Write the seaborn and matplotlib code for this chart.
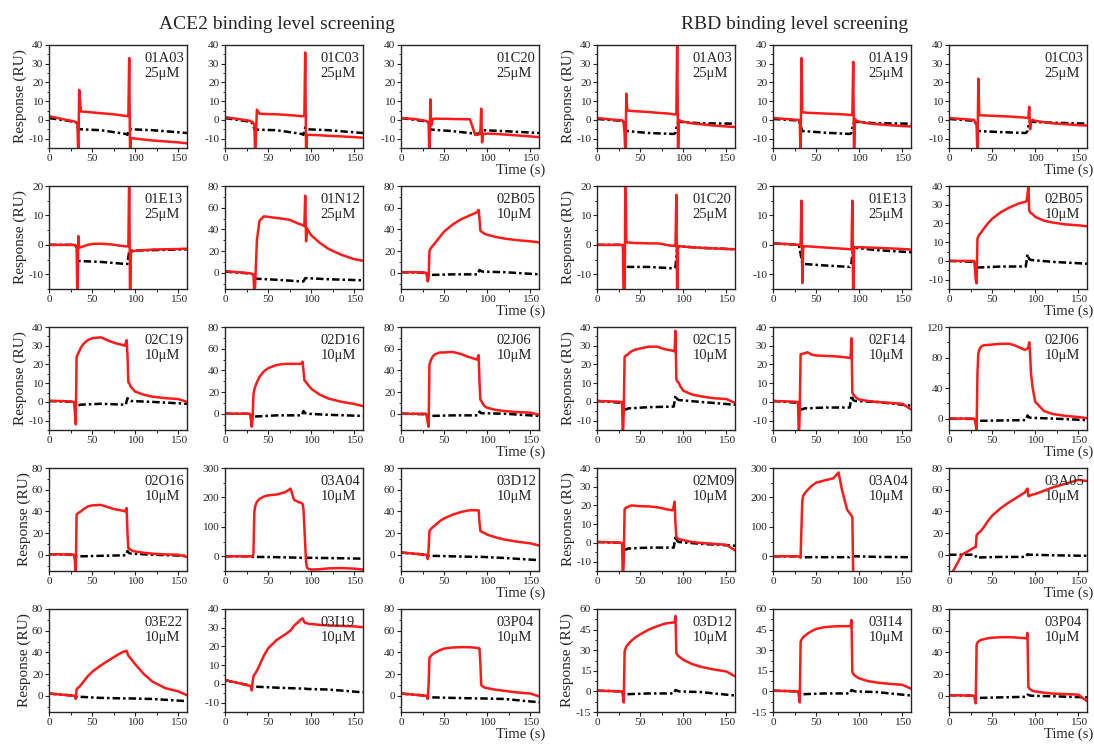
import matplotlib
matplotlib.use("Agg")
import matplotlib.pyplot as plt
import matplotlib.ticker as mticker
import seaborn as sns

# time grids (s) the sensorgram values below are read on
TIME_RED = [0, 15, 29, 30, 31, 32, 33, 34, 35, 37,
            40, 45, 50, 60, 70, 76, 80, 86, 88, 90, 91,
            92, 93, 94, 95, 97, 100, 110, 120, 135, 150, 160]
TIME_BLACK = [0, 30, 32, 34, 36, 60, 89, 91, 93, 95, 120, 160]

# ---- ACE2 binding level screening ----
ACE2_01A03_RED = [2, 0.5, -0.8, -1, -1.2, -1.5, -2.5, -20, 16, 4.5,
                  4.4, 4.2, 4, 3.6, 3.2, 2.9, 2.7, 2.3, 2.2, 2.1, 2.1,
                  2, 33, -20, -10, -9.8, -10, -10.5, -11, -11.5, -12, -12.5]
ACE2_01A03_BLACK = [1, -1, -1.5, -5, -5, -5.5, -7.5, -8, -5, -5, -5.5, -7]
ACE2_01C03_RED = [1.5, 0.5, -0.5, -0.7, -1, -1.2, -1.8, -3, -18, 5.5,
                  3.3, 3.2, 3.1, 3, 2.7, 2.5, 2.4, 2.1, 2, 2, 2,
                  2.5, 36, -18, -8, -8, -8, -8.2, -8.5, -8.8, -9.2, -9.5]
ACE2_01C03_BLACK = [1, -1, -2, -5, -5.2, -5.5, -7.5, -8, -4, -5, -5.5, -7]
ACE2_01C20_RED = [1, 0.5, -0.5, -0.8, -1, -1.5, -20, 11, -3, 0.5,
                  0.7, 0.6, 0.6, 0.5, 0.4, 0.35, 0.3, -8, -8, -7.8, -7.5,
                  -7, 6, -12, -7.5, -7.5, -7.3, -7.5, -7.8, -8.3, -8.8, -9.2]
ACE2_01C20_BLACK = [1, -0.8, -1.5, -5, -5.2, -6, -7.5, -7, -5.5, -5.5, -6, -7]
ACE2_01E13_RED = [0, 0, 0, 0, -0.2, -0.5, -20, 3, -1, -0.8,
                  -0.5, 0, 0.3, 0.4, 0.2, 0, -0.2, -0.4, -0.5, -0.5, -0.5,
                  -0.6, 25, -20, -2.5, -2.2, -2, -1.8, -1.6, -1.5, -1.4, -1.3]
ACE2_01E13_BLACK = [0, 0, -1, -5.5, -5.5, -5.8, -6.5, -6.5, -2, -2, -1.8, -1.5]
ACE2_01N12_RED = [1.5, 0.5, -0.5, -0.7, -1, -1.3, -1.5, -20, -10, 30,
                  48, 52, 51.5, 50.5, 49.5, 48.5, 47, 45, 44.5, 44, 43.5,
                  43, 71, 29, 41, 38, 34.5, 27.5, 22, 16.5, 12.5, 11]
ACE2_01N12_BLACK = [1, -0.7, -1.3, -5, -5.5, -6.5, -8, -8, -5, -5, -6, -7]
ACE2_02B05_RED = [0.5, 0.5, 0, -3, -8, -5, 20, 22, 23, 25,
                  28, 33, 38, 44.5, 49.5, 51.5, 53, 55, 56, 58, 50,
                  39, 38, 37.5, 37, 36, 35, 33, 31.5, 30, 29, 28]
ACE2_02B05_BLACK = [0.5, 0, -2, -2, -2, -1.5, -1.5, 2.5, 1.5, 1, 0.5, -1.5]
ACE2_02C19_RED = [0.5, 0.5, 0, -5, -12, 24, 25, 26, 27, 29,
                  31, 33, 34, 34.5, 32.5, 31.5, 31, 30.3, 30, 33, 25,
                  10.5, 10, 9, 8, 7, 5.5, 3.8, 2.8, 2, 1.5, 0]
ACE2_02C19_BLACK = [0.5, 0, -2, -2, -1.5, -1, -1.5, 2, 1, 0.5, 0, -1]
ACE2_02D16_RED = [0, 0, 0, -5, -12, -5, 18, 22, 25, 29,
                  34, 39, 42, 45, 46, 46, 46, 46, 46, 48, 40,
                  31, 30, 29, 28, 26, 23, 17.5, 14, 11, 9, 7]
ACE2_02D16_BLACK = [0, 0, -3, -3, -2.5, -1.5, -1.5, 2.5, 0.5, 0, -1, -2]
ACE2_02J06_RED = [0, 0, 0, -3, -8, -12, 45, 48, 50, 53,
                  55, 56.5, 56.5, 57, 55, 53, 52, 50.5, 50, 54, 30,
                  13, 12, 10.5, 9, 7, 5.5, 3.5, 2.5, 1.5, 1, -1]
ACE2_02J06_BLACK = [0, -0.5, -2, -2, -2, -1.5, -1.5, 2, 0.5, 0.5, 0, -2]
ACE2_02O16_RED = [0.5, 0.3, 0, -5, -20, 37, 38, 38.5, 39, 40,
                  42, 44.5, 45.5, 46, 43.5, 42, 41.5, 40.5, 40, 43, 20,
                  6, 5.5, 5, 4.5, 3.5, 3, 1.8, 1, 0.3, 0, -2]
ACE2_02O16_BLACK = [0.5, 0, -1.5, -1.5, -1.5, -1, -0.5, 3.5, 1.5, 1, 0, -1]
ACE2_03A04_RED = [0, 0, 0, 0, 0, 0, 10, 150, 170, 185,
                  195, 203, 207, 210, 218, 230, 192, 183, 182, 178, 160,
                  100, 40, -20, -38, -43, -45, -44, -41, -40, -42, -45]
ACE2_03A04_BLACK = [0, 0, -2, -2, -2, -3, -5, -5, -5, -5, -6, -8]
ACE2_03D12_RED = [2, 1, 0, -1, -4, 5, 22, 23, 24, 25.5,
                  27.5, 31, 33.5, 37, 39.5, 40.5, 41, 41, 41, 41, 30,
                  22, 21.5, 21, 20.5, 20, 18.5, 16, 14, 12, 10.5, 8.5]
ACE2_03D12_BLACK = [2, 0, -1, -1, -1, -1.5, -2, -2, -2, -2, -3, -5]
ACE2_03E22_RED = [2, 1, 0, -0.5, -3, 6, 7, 7.5, 8, 10,
                  13, 18, 22, 28, 33, 36, 38, 40.5, 41, 41.5, 39,
                  37, 36, 35, 34, 32, 29, 20, 13, 7, 4, 0.5]
ACE2_03E22_BLACK = [2, 0, -1, -1, -1, -2, -2.5, -2.5, -2.5, -2.5, -3, -5]
ACE2_03I19_RED = [2, 0.5, -1, -1.2, -3.5, 1, 4, 5, 5.5, 7,
                  10, 15, 19, 23.5, 26.5, 28.5, 31, 33.5, 34.5, 35, 34,
                  33, 32.5, 32.5, 32.5, 32, 32, 31.5, 31.2, 31, 30.7, 30.3]
ACE2_03I19_BLACK = [2, -1, -1.5, -1.5, -1.5, -2, -2.5, -2.5, -2.5, -2.7, -3, -4.5]
ACE2_03P04_RED = [2, 1, 0, -0.5, -3, 10, 35, 36, 37, 38.5,
                  40, 42, 43.5, 44.5, 44.8, 44.8, 44.7, 44.3, 44, 43.8, 43.5,
                  30, 10, 9, 8.5, 7.5, 7, 5.5, 4.5, 3, 2, -0.5]
ACE2_03P04_BLACK = [2, 0, -1.5, -1.5, -1.5, -2, -2.5, -2.5, -2.5, -2.5, -3, -6]

# ---- RBD binding level screening ----
RBD_01A03_RED = [1, 0.3, -0.2, -0.5, -2, -8, -20, 14, 5, 5,
                 4.8, 4.6, 4.5, 4.2, 3.8, 3.6, 3.5, 3.2, 3, 3, 3,
                 3, 45, -20, 0, -0.5, -1, -1.8, -2.3, -3, -3.5, -3.8]
RBD_01A03_BLACK = [0.5, -0.5, -2, -6, -6, -7, -7.5, -7, -2, -1, -1.8, -2]
RBD_01A19_RED = [1, 0.5, 0, -0.3, -1, -20, 33, 4, 4, 4,
                 3.8, 3.7, 3.6, 3.4, 3.2, 3.1, 3, 2.8, 2.7, 2.6, 2.6,
                 2.8, 31, -20, 0.5, -0.5, -1, -1.8, -2.3, -2.8, -3.3, -3.5]
RBD_01A19_BLACK = [0.5, -0.3, -3, -6, -6, -6.8, -7.5, -7, -2, -1, -1.8, -2]
RBD_01C03_RED = [1, 0.5, 0, -1, -2, -3, -20, 22, 2.5, 2.5,
                 2.4, 2.3, 2.2, 2, 1.8, 1.6, 1.5, 1.3, 1.2, 1.1, 1,
                 1, 7, -5, -1, 0, -0.5, -1.2, -1.8, -2.3, -2.8, -3]
RBD_01C03_BLACK = [0.5, -0.5, -3, -6, -6, -6.5, -7, -6, -1, -1, -1.5, -2]
RBD_01C20_RED = [0, 0, 0, 0, -20, -20, 25, 1, 0.8, 0.8,
                 0.7, 0.6, 0.6, 0.5, 0.5, 0.3, 0, -0.3, -0.3, -0.3, -0.4,
                 17, -20, -0.5, -0.5, -0.5, -0.6, -0.8, -1, -1.2, -1.4, -1.5]
RBD_01C20_BLACK = [0, 0, -6, -7, -7.5, -7.5, -8, -7.5, -1, -0.5, -1, -1.5]
RBD_01E13_RED = [0.5, 0.3, 0, 0, -0.1, -0.2, 15, -13, -0.5, -0.5,
                 -0.5, -0.6, -0.7, -0.9, -1.1, -1.2, -1.3, -1.4, -1.5, -1.5, -1.5,
                 15, -20, -1, -1, -0.8, -0.8, -0.9, -1, -1.2, -1.4, -1.6]
RBD_01E13_BLACK = [0.5, 0, -3, -6.5, -6.5, -7, -7.5, -6, -0.5, -1, -1.8, -2.5]
RBD_02B05_RED = [0, 0, 0, -3, -10, -12, 12, 13, 14, 15,
                 17, 20, 22.5, 26, 28.5, 29.7, 30.5, 31.3, 31.5, 32, 35,
                 40, 27, 26, 25.5, 25, 23.5, 21.5, 20.5, 19.5, 19, 18.5]
RBD_02B05_BLACK = [0, -0.5, -3.5, -3.5, -3.5, -3, -3, 3.5, 1, 0.5, -0.5, -1.5]
RBD_02C15_RED = [0.5, 0.3, 0, -20, -5, 24, 24.5, 25, 25, 26,
                 27, 28, 28.5, 29.5, 29.5, 28.5, 28, 27.5, 27.3, 27, 38,
                 12, 11, 10.5, 10, 8, 6, 4, 3, 2, 1.5, -0.5]
RBD_02C15_BLACK = [0.5, -0.5, -4, -4, -3.5, -2.8, -2.5, 3.5, 1.5, 1, 0, -1.5]
RBD_02F14_RED = [0.5, 0.3, 0, -20, -5, 25.5, 25.5, 25.7, 25.8, 26,
                 26.5, 25.2, 24.8, 24.6, 24.4, 24.2, 24, 23.7, 23.5, 23.5, 34,
                 5, 4, 3.5, 3, 2, 1.3, 0.5, 0, -0.5, -1, -4]
RBD_02F14_BLACK = [0.5, -0.5, -4, -4, -3.5, -3, -3, 3.5, 1, 0.5, 0, -2]
RBD_02J06_RED = [0, 0, 0, -3, -8, -15, 60, 85, 90, 94,
                 96, 96.5, 97, 98, 98, 96, 94, 91, 90, 91, 92,
                 93, 100, 85, 60, 40, 22, 10, 6, 3.5, 2, 0.5]
RBD_02J06_BLACK = [0, -0.5, -3, -3, -3, -2.5, -2, 4, 1.5, 1, 0, -2]
RBD_02M09_RED = [0.5, 0.3, 0, -20, -10, 18, 18.5, 19, 19, 19.5,
                 20, 19.8, 19.6, 19.5, 19, 18.5, 18, 17.5, 17.5, 22, 10,
                 3, 2.5, 2.3, 2, 1.8, 1.5, 0.5, 0, -0.5, -1, -4]
RBD_02M09_BLACK = [0.5, 0, -3.5, -3.5, -3, -2.5, -2.5, 3.5, 1, 0.5, -0.5, -1.5]
RBD_03A04_RED = [0, 0, 0, -2, -3, -3, 100, 190, 205, 215,
                 225, 240, 250, 258, 265, 285, 225, 158, 150, 142, 138,
                 133, -70, -70, -70, -70, -70, -70, -70, -70, -70, -70]
RBD_03A04_BLACK = [0, 0, -3, -3, -3, -3, -3, 1, 1, 0, -2, -3]
RBD_03A05_RED = [-22, 0, 6.5, 7, 7, 18, 19, 20, 20.5, 22,
                 25, 31, 36, 43, 48.5, 51.5, 53.5, 56.5, 57.5, 60, 61,
                 54, 54, 54.5, 55, 55.5, 56, 59, 62, 65.5, 69, 68]
RBD_03A05_BLACK = [0, 0, -3, -2.5, -2.5, -2, -2, 0.5, 0, 0, -0.5, -1]
RBD_03D12_RED = [0.5, 0.3, 0, -3, -8, 29, 31, 32.5, 33.5, 35,
                 37, 39.5, 41.5, 45, 47.5, 48.8, 49.5, 50, 50.2, 50.5, 55,
                 28, 27, 26, 25.5, 24.5, 23, 20, 18, 16, 14.5, 11]
RBD_03D12_BLACK = [0.5, 0, -2, -2, -2, -1.5, -1.5, 1, 0.5, 0, -0.5, -3]
RBD_03I14_RED = [0.5, 0.3, 0, -3, -8, 36, 37.5, 38.5, 39.5, 40.5,
                 42, 44, 45.5, 46.8, 47.3, 47.5, 47.5, 47.5, 47.5, 47.5, 52,
                 14, 13, 12, 11.5, 10.5, 9.5, 7.5, 6.5, 5.5, 4.8, 2]
RBD_03I14_BLACK = [0.5, 0, -2, -2, -2, -1.5, -1.5, 1, 0.5, 0, -0.5, -3]
RBD_03P04_RED = [0.5, 0.3, 0, -3, -7, 47, 49, 50, 50.5, 51.5,
                 52, 53, 53.5, 54, 54, 53.8, 53.5, 53.2, 53, 53, 58,
                 8, 7, 6, 5.5, 4.5, 4, 2.8, 2, 1.5, 1, -5]
RBD_03P04_BLACK = [0.5, 0, -2, -2, -2, -1.5, -1, 1, 0.5, 0, -0.5, -1.5]

# panel labels, row by row
ACE2_NAMES = ["01A03", "01C03", "01C20", "01E13", "01N12", "02B05",
              "02C19", "02D16", "02J06", "02O16", "03A04", "03D12",
              "03E22", "03I19", "03P04"]
RBD_NAMES = ["01A03", "01A19", "01C03", "01C20", "01E13", "02B05",
             "02C15", "02F14", "02J06", "02M09", "03A04", "03A05",
             "03D12", "03I14", "03P04"]
ACE2_CONC = ["25\u03bcM"] * 5 + ["10\u03bcM"] * 10
RBD_CONC = ["25\u03bcM"] * 5 + ["10\u03bcM"] * 10

# y ranges and major tick steps
ACE2_YLIM = [(-15, 40), (-15, 40), (-15, 40), (-15, 20), (-15, 80), (-15, 80),
             (-15, 40), (-15, 80), (-15, 80), (-15, 80), (-50, 300), (-15, 80),
             (-15, 80), (-15, 40), (-15, 80)]
ACE2_YSTEP = [10, 10, 10, 10, 20, 20, 10, 20, 20, 20, 100, 20, 20, 10, 20]
RBD_YLIM = [(-15, 40), (-15, 40), (-15, 40), (-15, 20), (-15, 20), (-15, 40),
            (-15, 40), (-15, 40), (-15, 120), (-15, 40), (-50, 300), (-15, 80),
            (-15, 60), (-15, 60), (-15, 80)]
RBD_YSTEP = [10, 10, 10, 10, 10, 10, 10, 10, 40, 10, 100, 20, 15, 15, 20]

ACE2_RED = [ACE2_01A03_RED, ACE2_01C03_RED, ACE2_01C20_RED, ACE2_01E13_RED,
            ACE2_01N12_RED, ACE2_02B05_RED, ACE2_02C19_RED, ACE2_02D16_RED,
            ACE2_02J06_RED, ACE2_02O16_RED, ACE2_03A04_RED, ACE2_03D12_RED,
            ACE2_03E22_RED, ACE2_03I19_RED, ACE2_03P04_RED]
ACE2_BLACK = [ACE2_01A03_BLACK, ACE2_01C03_BLACK, ACE2_01C20_BLACK, ACE2_01E13_BLACK,
              ACE2_01N12_BLACK, ACE2_02B05_BLACK, ACE2_02C19_BLACK, ACE2_02D16_BLACK,
              ACE2_02J06_BLACK, ACE2_02O16_BLACK, ACE2_03A04_BLACK, ACE2_03D12_BLACK,
              ACE2_03E22_BLACK, ACE2_03I19_BLACK, ACE2_03P04_BLACK]
RBD_RED = [RBD_01A03_RED, RBD_01A19_RED, RBD_01C03_RED, RBD_01C20_RED,
           RBD_01E13_RED, RBD_02B05_RED, RBD_02C15_RED, RBD_02F14_RED,
           RBD_02J06_RED, RBD_02M09_RED, RBD_03A04_RED, RBD_03A05_RED,
           RBD_03D12_RED, RBD_03I14_RED, RBD_03P04_RED]
RBD_BLACK = [RBD_01A03_BLACK, RBD_01A19_BLACK, RBD_01C03_BLACK, RBD_01C20_BLACK,
             RBD_01E13_BLACK, RBD_02B05_BLACK, RBD_02C15_BLACK, RBD_02F14_BLACK,
             RBD_02J06_BLACK, RBD_02M09_BLACK, RBD_03A04_BLACK, RBD_03A05_BLACK,
             RBD_03D12_BLACK, RBD_03I14_BLACK, RBD_03P04_BLACK]

W, H = 1094, 744
COL_LEFT = [49, 225, 401, 597, 773, 949]
ROW_TOP = [45, 186, 327, 468, 609]
AX_W, AX_H = 138, 103


def draw_panel(ax, red, black, name, conc, ylim, ystep, ylabel, xlabel):
    sns.lineplot(x=TIME_BLACK, y=black, ax=ax, color="black", linewidth=1.8,
                 linestyle=(0, (3, 1.2, 1, 1.2)), estimator=None, legend=False)
    sns.lineplot(x=TIME_RED, y=red, ax=ax, color="#ff1a1a", linewidth=1.8,
                 estimator=None, legend=False)
    ax.set_xlim(0, 160)
    ax.set_ylim(*ylim)
    ax.xaxis.set_major_locator(mticker.MultipleLocator(50))
    ax.xaxis.set_minor_locator(mticker.MultipleLocator(25))
    ax.yaxis.set_major_locator(mticker.MultipleLocator(ystep))
    ax.yaxis.set_minor_locator(mticker.AutoMinorLocator(2))
    ax.tick_params(which="major", length=3, width=0.8, pad=1.2, labelsize=8.2)
    ax.tick_params(which="minor", length=1.8, width=0.7)
    for sp in ax.spines.values():
        sp.set_linewidth(1.0)
        sp.set_visible(True)
    ax.set_xlabel("")
    ax.set_ylabel("")
    if ylabel:
        ax.set_ylabel("Response (RU)", fontsize=11, labelpad=1)
    if xlabel:
        ax.text(1.045, -0.155, "Time (s)", transform=ax.transAxes,
                ha="right", va="top", fontsize=10.5)
    ax.text(0.69, 0.93, f"{name}\n{conc}", transform=ax.transAxes,
            ha="left", va="top", fontsize=10.5, linespacing=1.2)


def main():
    sns.set_style("ticks")
    plt.rcParams["font.family"] = ["Liberation Serif", "DejaVu Serif"]
    plt.rcParams["axes.unicode_minus"] = False

    fig = plt.figure(figsize=(W / 100, H / 100), dpi=100)
    groups = [(0, ACE2_RED, ACE2_BLACK, ACE2_NAMES, ACE2_CONC, ACE2_YLIM, ACE2_YSTEP),
              (3, RBD_RED, RBD_BLACK, RBD_NAMES, RBD_CONC, RBD_YLIM, RBD_YSTEP)]
    for c0, reds, blacks, names, concs, ylims, ysteps in groups:
        for i in range(15):
            r, c = divmod(i, 3)
            left = COL_LEFT[c0 + c] / W
            bottom = 1 - (ROW_TOP[r] + AX_H) / H
            ax = fig.add_axes([left, bottom, AX_W / W, AX_H / H])
            draw_panel(ax, reds[i], blacks[i], names[i], concs[i],
                       ylims[i], ysteps[i], ylabel=(c == 0), xlabel=(c == 2))

    fig.text(277 / W, 1 - 29 / H, "ACE2 binding level screening",
             ha="center", va="baseline", fontsize=14)
    fig.text(795 / W, 1 - 29 / H, "RBD binding level screening",
             ha="center", va="baseline", fontsize=14)

    fig.savefig("out.png", dpi=100)
    plt.close(fig)


if __name__ == "__main__":
    main()
